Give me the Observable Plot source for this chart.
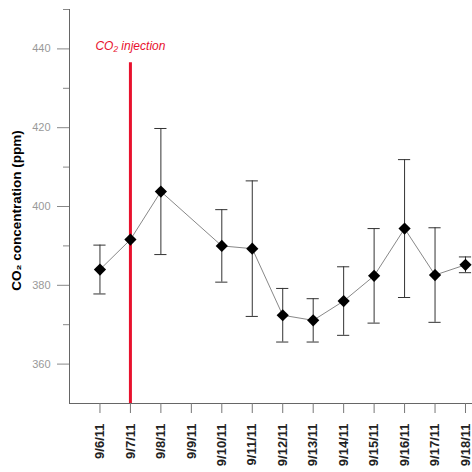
<!DOCTYPE html>
<html>
<head>
<meta charset="utf-8">
<script src="https://cdn.jsdelivr.net/npm/d3@7"></script>
<script src="https://cdn.jsdelivr.net/npm/@observablehq/plot@0.6"></script>
<style>
  html, body { margin: 0; padding: 0; background: #fff; }
  svg { display: block; }
</style>
</head>
<body>
<div id="chart"></div>
<script>
// Tick labels / categories (dates)
const dateLabels = ["9/6/11","9/7/11","9/8/11","9/9/11","9/10/11","9/11/11","9/12/11","9/13/11","9/14/11","9/15/11","9/16/11","9/17/11","9/18/11"];
// Mean CO2 concentration (ppm), null = no measurement
const co2Mean = [384, 391.6, 403.8, null, 390, 389.3, 372.4, 371.1, 376, 382.4, 394.4, 382.6, 385.2];
// Error (± ppm)
const co2Err = [6.2, null, 16, null, 9.2, 17.2, 6.8, 5.5, 8.7, 12, 17.5, 12, 2];
// Injection event
const injectionLabel = "9/7/11";
const injectionText = "CO₂ injection";
const yTitle = "CO₂ concentration (ppm)";
const yMajorTicks = [360, 380, 400, 420, 440];
const yMinorTicks = [370, 390, 410, 430, 450];

const dayOf = s => +s.split("/")[1];
const rows = dateLabels.map((d, i) => ({label: d, day: dayOf(d), mean: co2Mean[i], err: co2Err[i]}));
const pts = rows.filter(r => r.mean != null);
const errs = rows.filter(r => r.mean != null && r.err != null);
const injDay = dayOf(injectionLabel);
const labelByDay = new Map(rows.map(r => [r.day, r.label]));

const red = "#e8112d";
const font = "'Liberation Sans', Arial, sans-serif";

const chart = Plot.plot({
  width: 472,
  height: 472,
  marginLeft: 69,
  marginRight: 0,
  marginTop: 9,
  marginBottom: 69,
  style: {fontFamily: font, background: "#fff"},
  x: {domain: [5, 18.23]},
  y: {domain: [350, 450]},
  marks: [
    // axis lines
    Plot.ruleY([350], {stroke: "#666", strokeWidth: 1}),
    Plot.ruleX([5], {stroke: "#666", strokeWidth: 1}),
    Plot.axisY({ticks: yMajorTicks, tickSize: 12, tickPadding: 7, fontSize: 11, fill: "#999", stroke: "#888", label: null}),
    Plot.axisY({ticks: yMinorTicks, tickSize: 6, tickFormat: () => "", stroke: "#888", label: null}),
    Plot.axisX({ticks: rows.map(r => r.day), tickFormat: d => labelByDay.get(d), tickRotate: -90, tickSize: 10, tickPadding: 10, fontSize: 13, fontWeight: "bold", fill: "#222", stroke: "#777", label: null}),
    // injection line
    Plot.ruleX([injDay], {y1: 350, y2: 436.5, stroke: red, strokeWidth: 3}),
    Plot.text([injectionText], {x: injDay, y: 440.8, fill: red, fontStyle: "italic", fontSize: 12, textAnchor: "middle"}),
    // line
    Plot.line(pts, {x: "day", y: "mean", stroke: "#888", strokeWidth: 1}),
    // error bars
    Plot.ruleX(errs, {x: "day", y1: d => d.mean - d.err, y2: d => d.mean + d.err, stroke: "#333", strokeWidth: 1}),
    Plot.ruleY(errs, {y: d => d.mean + d.err, x1: d => d.day - 0.2, x2: d => d.day + 0.2, stroke: "#333", strokeWidth: 1}),
    Plot.ruleY(errs, {y: d => d.mean - d.err, x1: d => d.day - 0.2, x2: d => d.day + 0.2, stroke: "#333", strokeWidth: 1}),
    // points
    Plot.dot(pts, {x: "day", y: "mean", symbol: "diamond2", r: 5.5, fill: "#000", stroke: "none"}),
    // y title
    Plot.text([yTitle], {frameAnchor: "left", y: 399, dx: -53, rotate: -90, fontSize: 13.5, fontWeight: "bold", fill: "#000", textAnchor: "middle"})
  ]
});
document.getElementById("chart").appendChild(chart);
</script>
</body>
</html>
